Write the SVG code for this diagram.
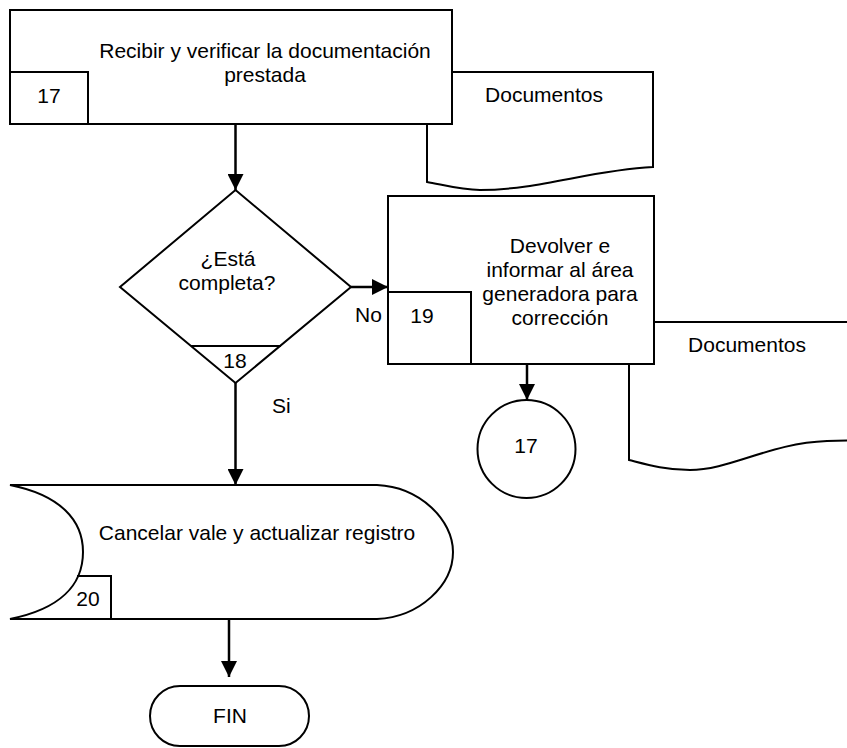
<svg xmlns="http://www.w3.org/2000/svg" width="847" height="748" viewBox="0 0 847 748">
  <style>
    .shape { fill: #ffffff; stroke: #000000; stroke-width: 2; }
    .line { fill: none; stroke: #000000; stroke-width: 2; }
    .conn { fill: none; stroke: #000000; stroke-width: 2.5; }
    text { font-family: "Liberation Sans", Arial, sans-serif; font-size: 21px; fill: #000000; }
    .c { text-anchor: middle; }
  </style>
  <defs>
    <marker id="arrow" viewBox="0 0 16 16" refX="16" refY="8" markerWidth="16" markerHeight="16" markerUnits="userSpaceOnUse" orient="auto">
      <path d="M0,0 L16,8 L0,16 Z" fill="#000000"/>
    </marker>
  </defs>

  <!-- Document outputs (drawn beneath their process boxes) -->
  <g id="doc1">
    <path class="shape" d="M427,72 L653,72 L653,167 C 590,170 540,190 480,190 C 460,190 440,184 427,182 Z"/>
    <text class="c" x="544" y="102">Documentos</text>
  </g>
  <g id="doc2">
    <path class="shape" d="M629,322 L860,322 L860,440 L827,441 C 770,443 730,470 690,470 C 665,470 645,464 629,460 Z"/>
    <text class="c" x="747" y="352">Documentos</text>
  </g>

  <!-- Step 17 -->
  <g id="step17">
    <rect class="shape" x="10" y="10" width="442" height="114"/>
    <polyline class="line" points="10,72 88,72 88,124"/>
    <text class="c" x="265" y="58">Recibir y verificar la documentación</text>
    <text class="c" x="265" y="82">prestada</text>
    <text class="c" x="49" y="103">17</text>
  </g>

  <!-- Decision 18 -->
  <g id="decision18">
    <polygon class="shape" points="235.5,190 351,287 235.5,383 120,287"/>
    <line class="line" x1="191" y1="346" x2="281" y2="346"/>
    <text class="c" x="228" y="266">¿Está</text>
    <text class="c" x="227" y="290">completa?</text>
    <text class="c" x="235" y="368">18</text>
  </g>

  <!-- Step 19 -->
  <g id="step19">
    <rect class="shape" x="388" y="196" width="266" height="168"/>
    <polyline class="line" points="388,292 471,292 471,364"/>
    <text class="c" x="560" y="253">Devolver e</text>
    <text class="c" x="560" y="277">informar al área</text>
    <text class="c" x="560" y="301">generadora para</text>
    <text class="c" x="560" y="325">corrección</text>
    <text class="c" x="422" y="323">19</text>
  </g>

  <!-- Connector back to 17 -->
  <g id="ref17">
    <circle class="shape" cx="526.5" cy="449" r="49"/>
    <text class="c" x="526" y="453">17</text>
  </g>

  <!-- Step 20 -->
  <g id="step20">
    <path class="shape" d="M10,485 L377,485 C 420,487 453,520 453,552 C 453,585 420,617 377,619 L10,619 C 60,609 83,585 83,552 C 83,520 60,495 10,485 Z"/>
    <polyline class="line" points="77,576 111,576 111,619"/>
    <text class="c" x="257" y="540">Cancelar vale y actualizar registro</text>
    <text class="c" x="88" y="606">20</text>
  </g>

  <!-- End -->
  <g id="fin">
    <rect class="shape" x="150" y="686" width="159" height="60" rx="30" ry="30"/>
    <text class="c" x="230" y="723">FIN</text>
  </g>

  <!-- Flow connectors -->
  <g id="connectors">
    <line class="conn" x1="235.5" y1="124" x2="235.5" y2="190" marker-end="url(#arrow)"/>
    <line class="conn" x1="351" y1="287" x2="388" y2="287" marker-end="url(#arrow)"/>
    <line class="conn" x1="235.5" y1="383" x2="235.5" y2="485" marker-end="url(#arrow)"/>
    <line class="conn" x1="527" y1="364" x2="527" y2="400" marker-end="url(#arrow)"/>
    <line class="conn" x1="229" y1="619" x2="229" y2="677" marker-end="url(#arrow)"/>
    <text x="355" y="322">No</text>
    <text x="272" y="413">Si</text>
  </g>
</svg>
